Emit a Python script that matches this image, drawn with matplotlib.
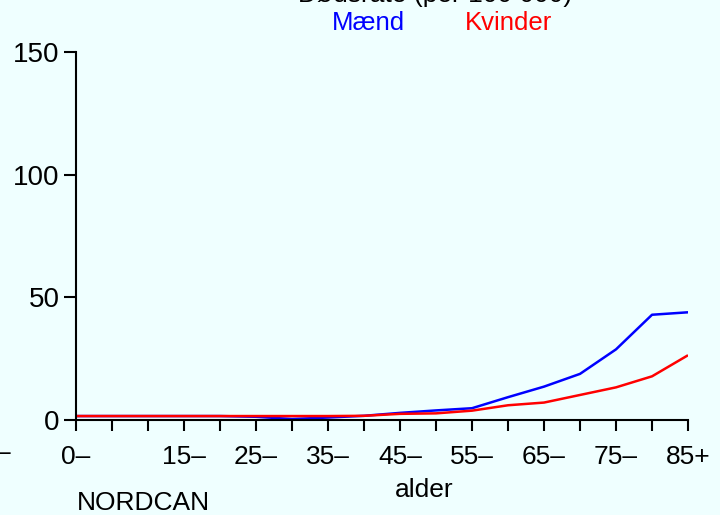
import matplotlib
matplotlib.use("Agg")
import matplotlib.pyplot as plt

# age groups (tick positions 0..17), labels shown on selected ones
age_groups = ["0–", "5–", "10–", "15–", "20–", "25–", "30–", "35–", "40–",
              "45–", "50–", "55–", "60–", "65–", "70–", "75–", "80–", "85+"]
shown_labels = {"0–", "15–", "25–", "35–", "45–", "55–", "65–", "75–", "85+"}

maend = [1.6, 1.6, 1.6, 1.6, 1.6, 1.3, 0.4, 1.0, 1.7,
         2.9, 3.9, 4.8, 9.3, 13.6, 18.8, 28.8, 42.9, 43.9]
kvinder = [1.6, 1.6, 1.6, 1.6, 1.6, 1.6, 1.6, 1.6, 1.7,
           2.5, 2.7, 3.8, 6.0, 7.1, 10.2, 13.3, 17.8, 26.4]

bg = "#EFFFFF"
fs = 19
plt.rcParams["font.family"] = ["Liberation Sans", "DejaVu Sans"]

fig = plt.figure(figsize=(7.2, 5.15), dpi=100, facecolor=bg)
ax = fig.add_axes([0.1056, 0.1845, 0.85, 0.7145], facecolor=bg)

x = list(range(len(age_groups)))
ax.plot(x, maend, color="#0000FF", lw=1.8, solid_capstyle="butt")
ax.plot(x, kvinder, color="#FF0000", lw=1.8, solid_capstyle="butt")

ax.set_xlim(0, 17)
ax.set_ylim(0, 150)
ax.set_xticks(x)
ax.set_xticklabels([l if l in shown_labels else "" for l in age_groups])
ax.set_yticks([0, 50, 100, 150])
for s in ("top", "right"):
    ax.spines[s].set_visible(False)
for s in ("left", "bottom"):
    ax.spines[s].set_linewidth(1.5)
ax.tick_params(axis="x", direction="out", length=8, width=1.5,
               labelsize=fs, pad=10)
ax.tick_params(axis="y", direction="out", length=9, width=1.5,
               labelsize=20, pad=3)

# title (cut off at the top in the reference) and colour legend
fig.text(0.604, 0.996, "Dødsrate (per 100 000)", ha="center", va="baseline",
         fontsize=fs, color="black")
fig.text(0.512, 0.955, "Mænd", ha="center", va="center", fontsize=18.5, color="#0000FF")
fig.text(0.706, 0.955, "Kvinder", ha="center", va="center", fontsize=18.5, color="#FF0000")
fig.text(0.589, 0.048, "alder", ha="center", va="center", fontsize=fs)
fig.text(0.107, 0.0, "NORDCAN", ha="left", va="bottom", fontsize=fs)
fig.text(-0.006, 0.12, "–", ha="left", va="center", fontsize=fs)

fig.savefig("out.png", dpi=100, facecolor=bg)
